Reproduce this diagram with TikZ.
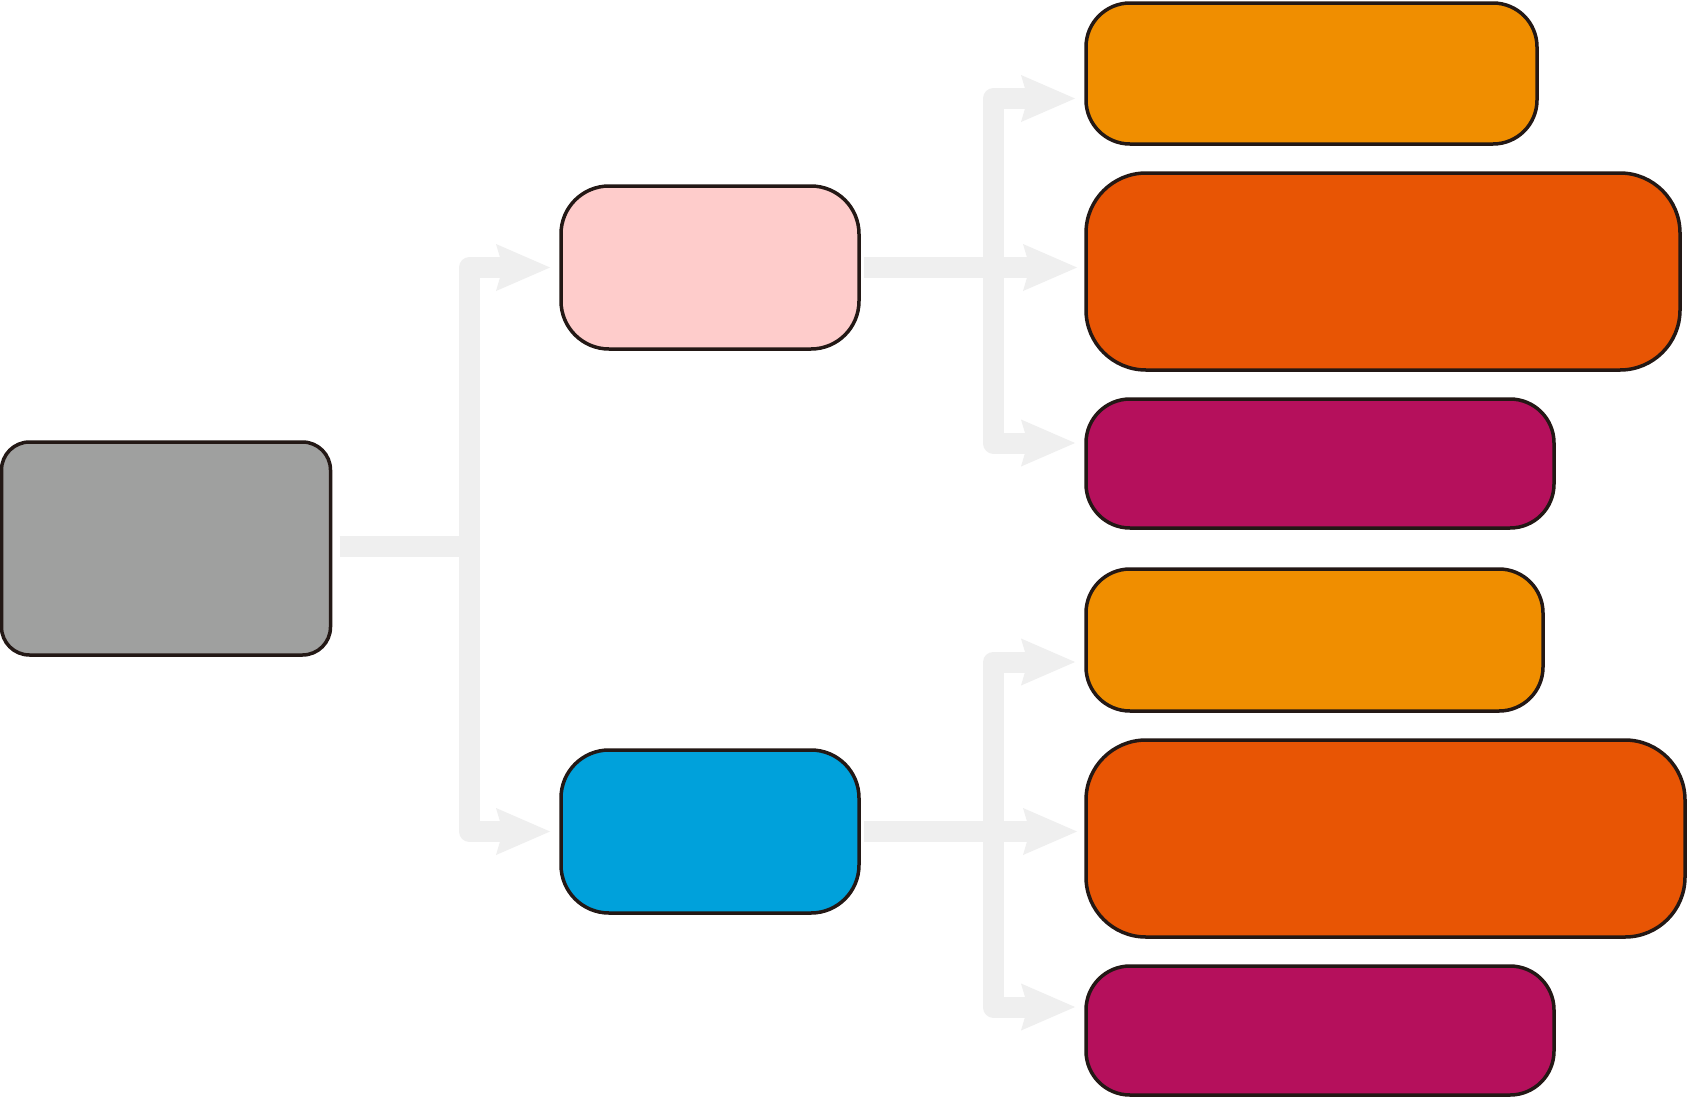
\documentclass[tikz,border=0pt]{standalone}
\usetikzlibrary{arrows.meta}
\definecolor{edge}{HTML}{231815}
\definecolor{link}{HTML}{EFEFEF}
\definecolor{cgray}{HTML}{9FA09F}
\definecolor{cpink}{HTML}{FECCCB}
\definecolor{cblue}{HTML}{00A1DB}
\definecolor{corange}{HTML}{F08E00}
\definecolor{cred}{HTML}{E85504}
\definecolor{cmag}{HTML}{B5105C}
\begin{document}
\begin{tikzpicture}[x=1pt,y=-1pt,
  box/.style={draw=edge, line width=3.5pt, inner sep=0pt, outer sep=0pt},
  conn/.style={draw=link, line width=21pt, line join=round,
    -{Stealth[length=54pt,width=47pt,inset=7pt,line width=0pt]}}]
\useasboundingbox[fill=white] (0,0) rectangle (1687,1098);

% nodes
\node[box, fill=cgray, minimum width=329pt, minimum height=213pt, rounded corners=28pt] (gray) at (166,548.5) {};
\node[box, fill=cpink, minimum width=298pt, minimum height=163pt, rounded corners=48pt] (pink) at (710,267.5) {};
\node[box, fill=cblue, minimum width=298pt, minimum height=163pt, rounded corners=48pt] (blue) at (710,831.5) {};

\node[box, fill=corange, minimum width=451pt, minimum height=141pt, rounded corners=44pt] (o1) at (1311.5,73.5) {};
\node[box, fill=cred, minimum width=594pt, minimum height=197pt, rounded corners=60pt] (r1) at (1383,271.5) {};
\node[box, fill=cmag, minimum width=468pt, minimum height=129pt, rounded corners=44pt] (m1) at (1320,463.5) {};
\node[box, fill=corange, minimum width=457pt, minimum height=142pt, rounded corners=44pt] (o2) at (1314.5,640) {};
\node[box, fill=cred, minimum width=599pt, minimum height=197pt, rounded corners=60pt] (r2) at (1385.5,838.5) {};
\node[box, fill=cmag, minimum width=468pt, minimum height=129pt, rounded corners=44pt] (m2) at (1320,1030.5) {};

% junctions and arrow tips
\coordinate (j1) at (469.5,546.5);
\coordinate (ap) at (550,267.5);
\coordinate (ab) at (550,831.5);
\coordinate (j2) at (993.5,267.5);
\coordinate (a1) at (1075,98.5);
\coordinate (a2) at (1077,267.5);
\coordinate (a3) at (1075,443);
\coordinate (j3) at (993.5,831.5);
\coordinate (a4) at (1075,662);
\coordinate (a5) at (1077,831.5);
\coordinate (a6) at (1075,1007);

% connectors
\draw[conn] ([xshift=9pt,yshift=2pt]gray.east) -- (j1) |- (ap);
\draw[conn] ([xshift=9pt,yshift=2pt]gray.east) -- (j1) |- (ab);

\draw[conn] ([xshift=5pt]pink.east) -- (j2) |- (a1);
\draw[conn] ([xshift=5pt]pink.east) -- (j2) |- (a3);
\draw[conn] ([xshift=5pt]pink.east) -- (a2);

\draw[conn] ([xshift=5pt]blue.east) -- (j3) |- (a4);
\draw[conn] ([xshift=5pt]blue.east) -- (j3) |- (a6);
\draw[conn] ([xshift=5pt]blue.east) -- (a5);
\end{tikzpicture}
\end{document}
